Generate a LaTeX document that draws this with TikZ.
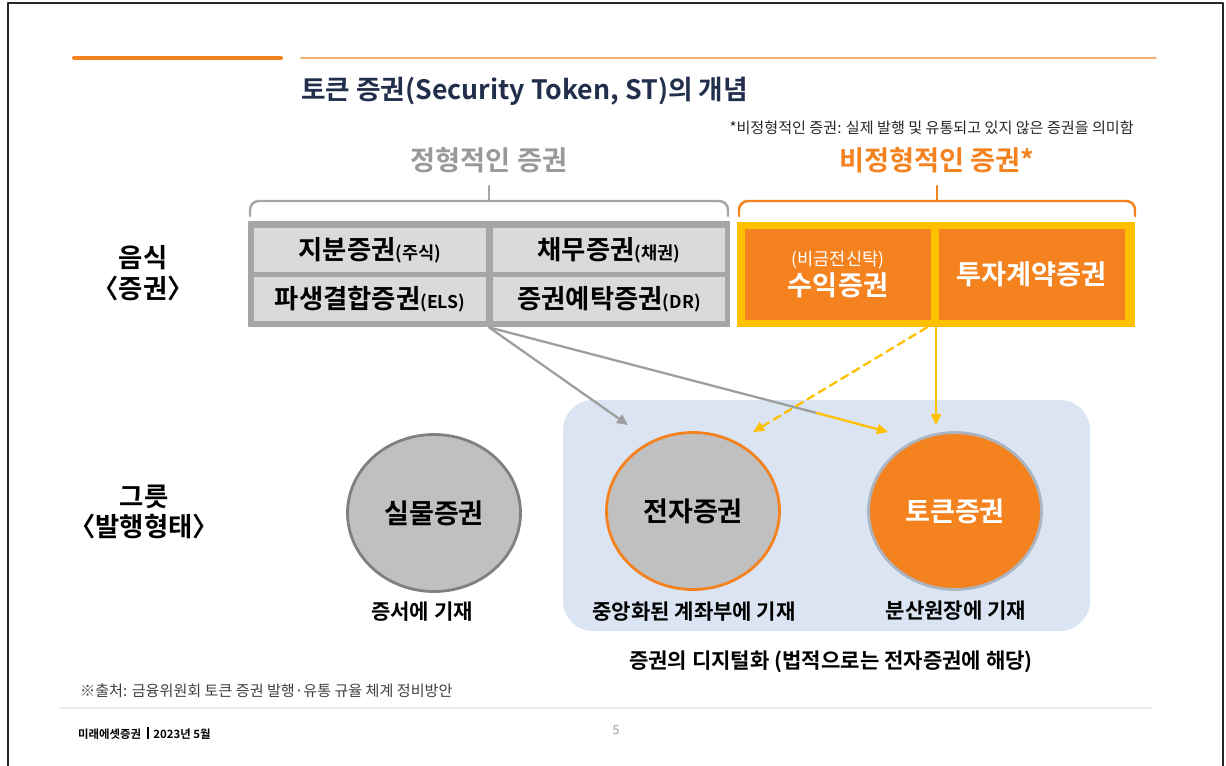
\documentclass[tikz,border=0pt]{standalone}
\usepackage{fontspec}
\setmainfont{Noto Sans CJK KR}[BoldFont={* Bold}]
\usepackage{tikz}
\usetikzlibrary{shapes.geometric}
\usetikzlibrary{arrows.meta}
\definecolor{ffcqqq}{rgb}{1.,0.753,0.}
\definecolor{fbiibf}{rgb}{0.957,0.51,0.122}
\definecolor{fbbbff}{rgb}{0.961,0.69,0.43}
\definecolor{aaaaaa}{rgb}{0.651,0.651,0.651}
\definecolor{ddddde}{rgb}{0.855,0.855,0.855}
\definecolor{cccccc}{rgb}{0.753,0.753,0.753}
\definecolor{ffffbb}{rgb}{0.5,0.5,0.5}
\definecolor{ddeeff}{rgb}{0.859,0.894,0.953}
\definecolor{aabbcc}{rgb}{0.67,0.71,0.76}
\definecolor{qqbbff}{rgb}{0.13,0.18,0.3}
\definecolor{eeeeee}{rgb}{0.92,0.92,0.92}
\newcommand{\fsz}[1]{\fontsize{#1}{#1}\selectfont}

\begin{document}
\begin{tikzpicture}[line cap=round,line join=round,x=0.02cm,y=-0.02cm,>={Triangle[length=2.2mm,width=2mm]},
  gcell/.style={fill=ddddde,minimum width=4.64cm,minimum height=0.88cm,inner sep=0,font=\fsz{15}\bfseries},
  ocell/.style={fill=fbiibf,text=white,minimum width=3.72cm,minimum height=1.82cm,inner sep=0,align=center,font=\fontsize{15.5}{17}\selectfont\bfseries},
  side/.style={align=center,font=\fontsize{15}{17.5}\selectfont\bfseries},
  ovl/.style={ellipse,line width=1.6pt,minimum width=3.46cm,minimum height=3.14cm,inner sep=0,font=\fsz{15.4}\bfseries},
  capt/.style={font=\fsz{12}\bfseries}]
\useasboundingbox (0,0) rectangle (1226,765);
\draw [line width=1.1pt,color=black!85] (8,770) -- (8,3) -- (1223,3) -- (1223,770);
\draw [line width=2.3pt,color=fbiibf] (74,58) -- (281,58);
\draw [line width=0.9pt,color=fbbbff] (301,58) -- (1156,58);
\node (title) [anchor=west,font=\fsz{15.2}\bfseries,color=qqbbff] at (295,91) {토큰 증권(Security Token, ST)의 개념};
\node (note) [anchor=east,font=\fsz{8.6},color=black!85] at (1140,128) {*비정형적인 증권: 실제 발행 및 유통되고 있지 않은 증권을 의미함};
\node (jh) [font=\fsz{15.5}\bfseries,color=black!40] at (489,160) {정형적인 증권};
\node (bjh) [font=\fsz{15.5}\bfseries,color=fbiibf] at (937,160) {비정형적인 증권*};
% braces
\draw [line width=1.4pt,color=aaaaaa,rounded corners=5] (250,216) -- (250,201) -- (728,201) -- (728,216);
\draw [line width=1.4pt,color=aaaaaa] (489,201) -- (489,186);
\draw [line width=1.4pt,color=fbiibf,rounded corners=5] (739,216) -- (739,201) -- (1135,201) -- (1135,216);
\draw [line width=1.4pt,color=fbiibf] (937,201) -- (937,186);
% securities
\node (jbox) [fill=aaaaaa,minimum width=9.64cm,minimum height=2.12cm,inner sep=0] at (489,274) {};
\node (jibun) [gcell] at (370,250) {지분증권{\fsz{10}(주식)}};
\node (chaemu) [gcell] at (609,250) {채무증권{\fsz{10}(채권)}};
\node (pasaeng) [gcell] at (370,299) {파생결합증권{\fsz{10}(ELS)}};
\node (yetak) [gcell] at (609,299) {증권예탁증권{\fsz{10}(DR)}};
\node (bbox) [fill=ffcqqq,minimum width=7.96cm,minimum height=2.1cm,inner sep=0] at (936,274.5) {};
\node (suik) [ocell] at (838,274.5) {{\fsz{10}\mdseries (비금전신탁)}\\수익증권};
\node (tuja) [ocell] at (1031.5,274.5) {투자계약증권};
\node (eumsik) [side] at (143,273) {음식\\〈증권〉};
\node (geureut) [side] at (144,512) {그릇\\〈발행형태〉};
% forms
\fill [color=ddeeff,rounded corners=0.6cm] (563,400) rectangle (1090,631);
\node (silmul) [ovl,fill=cccccc,draw=ffffbb] at (434,513) {실물증권};
\node (jeonja) [ovl,fill=cccccc,draw=fbiibf] at (693,511) {전자증권};
\node (token) [ovl,fill=fbiibf,draw=aabbcc,text=white] at (955,511) {토큰증권};
\node (silmulcap) [capt] at (422,612) {증서에 기재};
\node (jeonjacap) [capt] at (694,612) {중앙화된 계좌부에 기재};
\node (tokencap) [capt] at (956,611) {분산원장에 기재};
\node (digital) [font=\fsz{12}\bfseries] at (831,662) {증권의 디지털화 (법적으로는 전자증권에 해당)};
% arrows
\coordinate (tipa) at (628,425);
\coordinate (bend) at (817,413);
\coordinate (tipb) at (888,432);
\coordinate (tipc) at (753,432);
\coordinate (tipd) at (936,425);
\draw [->,line width=1.3pt,color=black!38] (jbox.south) -- (tipa);
\draw [line width=1.3pt,color=black!38] (jbox.south) -- (bend);
\draw [->,line width=1.3pt,color=ffcqqq] (bend) -- (tipb);
\draw [->,line width=1.3pt,color=ffcqqq,dash pattern=on 4.5pt off 3pt] ([xshift=-0.18cm]bbox.south) -- (tipc);
\draw [->,line width=1.3pt,color=ffcqqq] (bbox.south) -- (tipd);
% footer
\draw [line width=1.2pt,color=eeeeee] (60,708) -- (1152,708);
\node (source) [anchor=west,font=\fsz{8.6},color=black!75] at (74,691) {※출처: 금융위원회 토큰 증권 발행·유통 규율 체계 정비방안};
\node (footer) [anchor=west,font=\fsz{6.5}\bfseries] at (72,733) {미래에셋증권\hspace{3pt}\rule[-0.6pt]{1.4pt}{7pt}\hspace{2.5pt}2023년 5월};
\node (page) [font=\fsz{7},color=black!40] at (616,730) {5};
\end{tikzpicture}
\end{document}
